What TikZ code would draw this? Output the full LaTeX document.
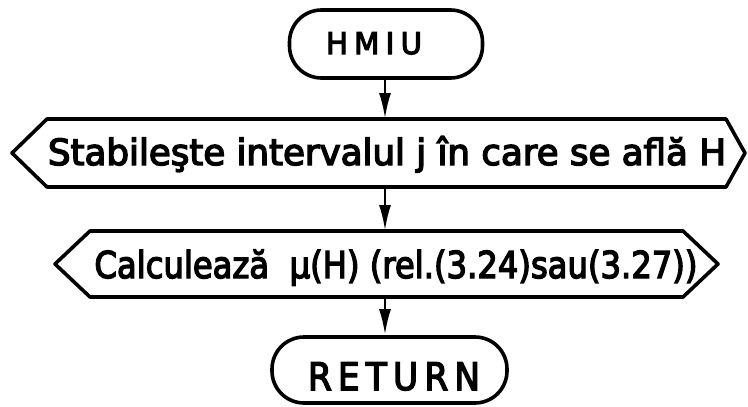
\documentclass[tikz,border=0pt]{standalone}
\usepackage{fontspec}
\usepackage{graphicx}
\setmainfont{DejaVu Sans}[FakeBold=4]
\usetikzlibrary{arrows.meta}

% squeeze a text horizontally to a given width, keeping its height
\newcommand\fitwidth[2]{\resizebox{#1}{\height}{#2}}

\tikzset{
  outline/.style={line width=3.6pt, line join=round},
  terminal/.style={outline, draw, rectangle, rounded corners=32pt, inner sep=0pt},
  label/.style={inner sep=0pt, anchor=base},
  flow/.style={line width=2.8pt, -{Latex[length=26pt,width=12pt]}},
}

\begin{document}
\begin{tikzpicture}[x=1pt,y=-1pt]
\useasboundingbox (0,0) rectangle (748,407);

% start and end terminals
\node[terminal, minimum width=193pt, minimum height=68pt] (hmiu) at (386,44) {};
\node[label] (hmiutxt) at (374,54)
  {\fontsize{30}{30}\selectfont\fitwidth{96pt}{\addfontfeature{LetterSpace=22}HMIU}};

\node[terminal, minimum width=235pt, minimum height=66pt] (ret) at (389.5,370) {};
\node[label] (rettxt) at (394,390)
  {\fontsize{38}{38}\selectfont\fitwidth{172pt}{\addfontfeature{LetterSpace=18}RETURN}};

% first processing block (hexagon)
\coordinate (h1l) at (12,153);
\coordinate (h1tl) at (47,119);
\coordinate (h1tr) at (726,119);
\coordinate (h1r) at (745,153);
\coordinate (h1br) at (726,187);
\coordinate (h1bl) at (47,187);
\coordinate (h1t) at (385,119);
\coordinate (h1b) at (385,187);
\draw[outline] (h1l) -- (h1tl) -- (h1tr) -- (h1r) -- (h1br) -- (h1bl) -- cycle;
\node[label] (h1txt) at (387,165)
  {\fontsize{36}{36}\selectfont\fitwidth{678pt}{Stabileşte intervalul j în care se află H}};

% second processing block (hexagon)
\coordinate (h2l) at (55,264);
\coordinate (h2tl) at (90,231);
\coordinate (h2tr) at (683,231);
\coordinate (h2r) at (718,264);
\coordinate (h2br) at (683,297);
\coordinate (h2bl) at (90,297);
\coordinate (h2t) at (385,231);
\coordinate (h2b) at (385,297);
\draw[outline] (h2l) -- (h2tl) -- (h2tr) -- (h2r) -- (h2br) -- (h2bl) -- cycle;
\node[label] (h2txt) at (396,278)
  {\fontsize{37}{37}\selectfont\fitwidth{603pt}{Calculează~~μ(H) (rel.(3.24)sau(3.27))}};

% connectors
\draw[flow] (hmiu.south -| h1t) -- (h1t);
\draw[flow] (h1b) -- (h2t);
\draw[flow] (h2b) -- (h2b |- ret.north);
\end{tikzpicture}
\end{document}
